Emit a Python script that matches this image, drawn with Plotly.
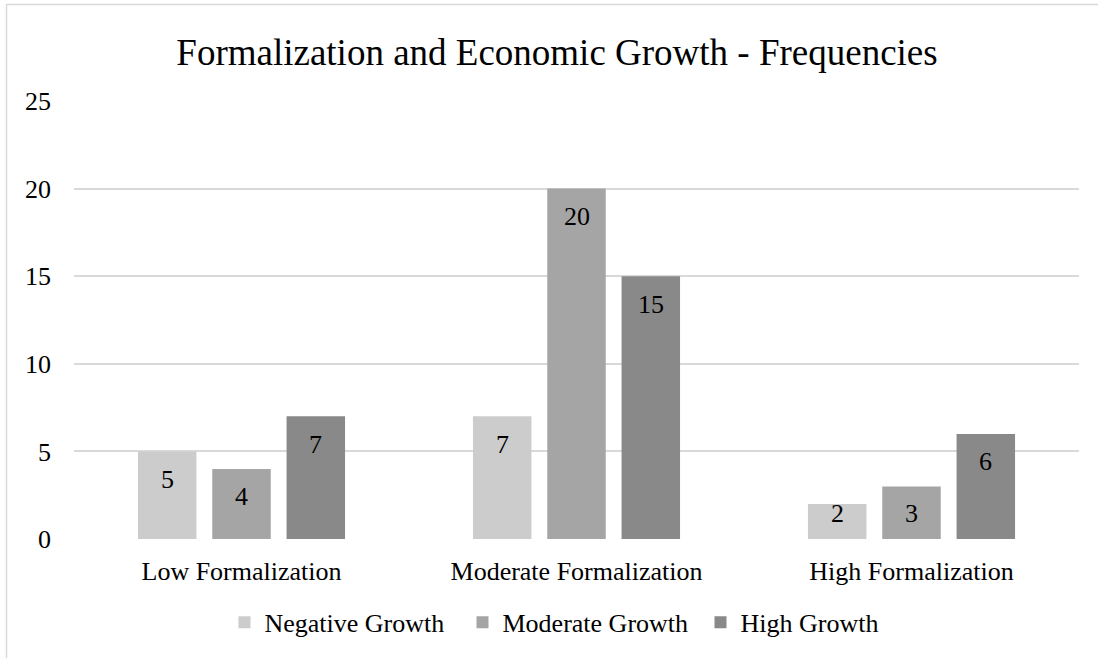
import plotly.graph_objects as go

categories = ["Low Formalization", "Moderate Formalization", "High Formalization"]
series_names = ["Negative Growth", "Moderate Growth", "High Growth"]
negative_growth = [5, 7, 2]
moderate_growth = [4, 20, 3]
high_growth = [7, 15, 6]
y_ticks = [0, 5, 10, 15, 20, 25]

colors = ["#CCCCCC", "#A5A5A5", "#898989"]
FONT = "Liberation Serif, Times New Roman, serif"
BARGAP = 0.3346
BARGROUPGAP = 0.213
PX_PER_UNIT = 438.5 / 25.0

fig = go.Figure()
all_series = [negative_growth, moderate_growth, high_growth]
for name, vals, col in zip(series_names, all_series, colors):
    fig.add_trace(go.Bar(
        name=name, x=categories, y=vals,
        marker=dict(color=col, line=dict(width=0)),
        hoverinfo="x+y+name",
    ))

# data labels near the inside end of each bar
slot = (1 - BARGAP) / len(all_series)
annotations = []
for i, vals in enumerate(all_series):
    off = (i - (len(all_series) - 1) / 2) * slot
    for ci, v in enumerate(vals):
        shift = min(28, v * PX_PER_UNIT - 26)
        annotations.append(dict(
            x=ci + off, y=v, xref="x", yref="y", text=str(v),
            showarrow=False, yanchor="middle", yshift=-shift,
            font=dict(family=FONT, size=26, color="#000000"),
        ))

fig.update_layout(
    width=1098, height=658,
    margin=dict(l=74, r=19, t=101, b=118.5, pad=0, autoexpand=False),
    paper_bgcolor="#FFFFFF", plot_bgcolor="#FFFFFF",
    font=dict(family=FONT, size=26, color="#000000"),
    barmode="group", bargap=BARGAP, bargroupgap=BARGROUPGAP,
    title=dict(
        text="Formalization and Economic Growth - Frequencies",
        x=557 / 1098, xref="container", xanchor="center",
        y=1 - 52 / 658, yref="container", yanchor="middle",
        font=dict(family=FONT, size=37, color="#000000"),
    ),
    xaxis=dict(
        type="category", showgrid=False, zeroline=False, automargin=False,
        showline=False, ticks="", ticklabelstandoff=14, tickangle=0,
        tickfont=dict(family=FONT, size=26, color="#000000"),
    ),
    yaxis=dict(
        range=[0, 25], tickvals=y_ticks, showgrid=True, automargin=False,
        gridcolor="#D9D9D9", gridwidth=1.5, zeroline=False,
        showline=False, ticks="", ticklabelstandoff=22,
        tickfont=dict(family=FONT, size=26, color="#000000"),
    ),
    legend=dict(
        orientation="h", x=(581.5 - 74) / 1005, xref="paper", xanchor="center",
        y=(539.5 - 623) / 438.5, yref="paper", yanchor="middle",
        font=dict(family=FONT, size=26, color="#000000"),
        bgcolor="rgba(0,0,0,0)", traceorder="normal",
        itemwidth=30, entrywidth=193,
    ),
    annotations=annotations,
    shapes=[dict(
        type="rect", xref="paper", yref="paper",
        x0=(6.5 - 74) / 1005, x1=(1110 - 74) / 1005,
        y0=(539.5 - 680) / 438.5, y1=(539.5 - 4.5) / 438.5,
        line=dict(color="#D9D9D9", width=1.5), fillcolor="rgba(0,0,0,0)",
        layer="below",
    )],
    showlegend=True,
)

fig.write_html("out.html")
